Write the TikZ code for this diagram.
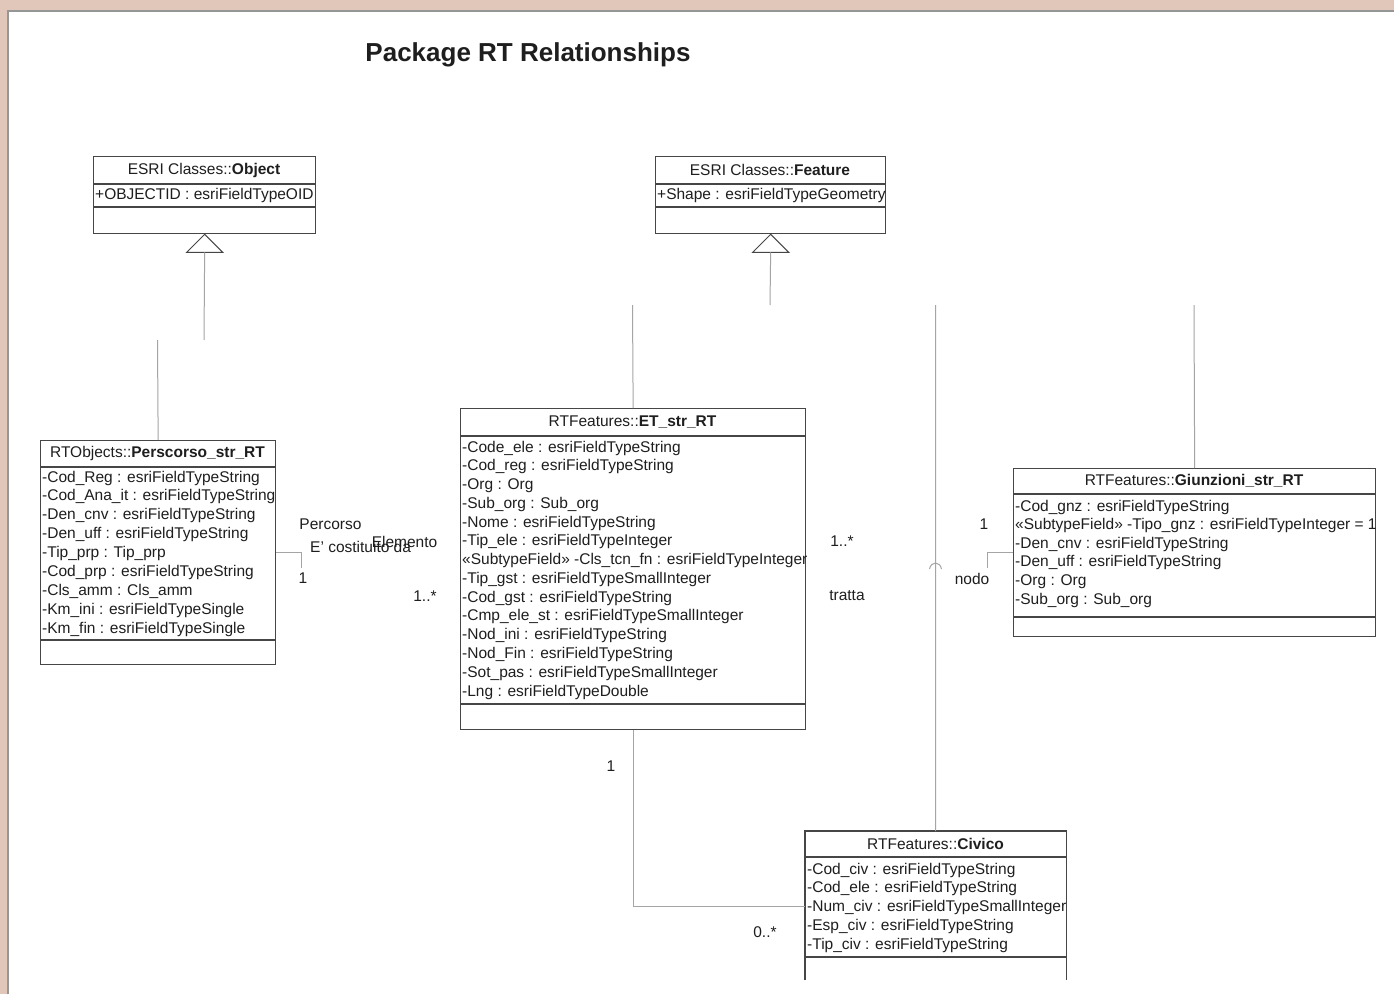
\documentclass[tikz,border=0pt]{standalone}
\usepackage{fontspec}
\setmainfont{Liberation Sans}
\usepackage{xcolor}
\definecolor{page-bg}{RGB}{225,198,186}
\definecolor{page-edge}{RGB}{150,150,150}
\definecolor{box-line}{RGB}{70,70,70}
\definecolor{link-line}{RGB}{165,165,165}
\definecolor{txt}{RGB}{30,30,30}
\usetikzlibrary{calc}

\tikzset{
	umlbox/.style={draw=box-line,line width=1.3pt,inner sep=0pt,anchor=north west},
	divider/.style={draw=box-line,line width=1.1pt},
	attr/.style={anchor=west,inner sep=0pt,text=txt,font=\fontsize{15.5}{18}\selectfont},
	ctitle/.style={inner sep=0pt,text=txt,font=\fontsize{15.5}{18}\selectfont},
	lbl/.style={inner sep=0pt,text=txt,font=\fontsize{15.5}{18}\selectfont},
	gen/.style={draw=link-line,line width=1pt},
	assoc/.style={draw=link-line,line width=1pt},
	genhead/.style={draw=box-line,line width=1pt,fill=white},
}

\begin{document}
\begin{tikzpicture}[x=1pt,y=-1pt]
	\useasboundingbox (0,0) rectangle (1394,994);
	\fill[page-bg] (0,0) rectangle (1394,994);
	\fill[white] (8,11) rectangle (1394,994);
	\draw[page-edge,line width=2pt] (7.5,994) -- (7.5,10.5) -- (1394,10.5);

	\node[inner sep=0pt,text=txt,font=\fontsize{26}{30}\selectfont\bfseries]
		(title) at (528,55) {Package RT Relationships};

	% ESRI classes
	\node[umlbox,minimum width=222pt,minimum height=77pt] (obj) at (93,156) {};
	\node[ctitle] (obj-t) at (204,170) {ESRI Classes::\textbf{Object}};
	\draw[divider] (93,184) -- (315,184) (93,207) -- (315,207);
	\node[attr] (obj-1) at (95,195) {+OBJECTID : esriFieldTypeOID};

	\node[umlbox,minimum width=230pt,minimum height=77pt] (feat) at (655,156) {};
	\node[ctitle] (feat-t) at (770,170) {ESRI Classes::\textbf{Feature}};
	\draw[divider] (655,184) -- (885,184) (655,207) -- (885,207);
	\node[attr] (feat-1) at (657,195) {+Shape : esriFieldTypeGeometry};

	\draw[genhead] (obj.south) -- ++(-18,18) -- ++(36,0) -- cycle;
	\draw[genhead] (feat.south) -- ++(-18,18) -- ++(36,0) -- cycle;
	\coordinate (obj-base) at ([yshift=-18pt]obj.south);
	\coordinate (feat-base) at ([yshift=-18pt]feat.south);
	\coordinate (obj-end) at (204,340);
	\coordinate (feat-end) at (770,305);
	\draw[gen] (obj-base) -- (obj-end);
	\draw[gen] (feat-base) -- (feat-end);

	% RTObjects::Perscorso_str_RT
	\node[umlbox,minimum width=235pt,minimum height=224pt] (pers) at (40,440) {};
	\node[ctitle] (pers-t) at (157.5,453) {RTObjects::\textbf{Perscorso\_str\_RT}};
	\draw[divider] (40,467) -- (275,467) (40,640) -- (275,640);
	\foreach \a [count=\i] in {-Cod\_Reg : esriFieldTypeString,
		-Cod\_Ana\_it : esriFieldTypeString,-Den\_cnv : esriFieldTypeString,
		-Den\_uff : esriFieldTypeString,-Tip\_prp : Tip\_prp,
		-Cod\_prp : esriFieldTypeString,-Cls\_amm : Cls\_amm,
		-Km\_ini : esriFieldTypeSingle,-Km\_fin : esriFieldTypeSingle}
		\node[attr] (pers-\i) at ({42},{478+(\i-1)*18.9}) {\a};

	% RTFeatures::ET_str_RT
	\node[umlbox,minimum width=345pt,minimum height=321pt] (et) at (460,408) {};
	\node[ctitle] (et-t) at (632.5,422) {RTFeatures::\textbf{ET\_str\_RT}};
	\draw[divider] (460,436) -- (805,436) (460,704) -- (805,704);
	\foreach \a [count=\i] in {-Code\_ele : esriFieldTypeString,
		-Cod\_reg : esriFieldTypeString,-Org : Org,-Sub\_org : Sub\_org,
		-Nome : esriFieldTypeString,-Tip\_ele : esriFieldTypeInteger,
		«SubtypeField» -Cls\_tcn\_fn : esriFieldTypeInteger,
		-Tip\_gst : esriFieldTypeSmallInteger,-Cod\_gst : esriFieldTypeString,
		-Cmp\_ele\_st : esriFieldTypeSmallInteger,-Nod\_ini : esriFieldTypeString,
		-Nod\_Fin : esriFieldTypeString,-Sot\_pas : esriFieldTypeSmallInteger,
		-Lng : esriFieldTypeDouble}
		\node[attr] (et-\i) at ({462},{448+(\i-1)*18.77}) {\a};

	% RTFeatures::Giunzioni_str_RT
	\node[umlbox,minimum width=362pt,minimum height=168pt] (giunz) at (1013,468) {};
	\node[ctitle] (giunz-t) at (1194,481) {RTFeatures::\textbf{Giunzioni\_str\_RT}};
	\draw[divider] (1013,494) -- (1375,494) (1013,617) -- (1375,617);
	\foreach \a [count=\i] in {-Cod\_gnz : esriFieldTypeString,
		«SubtypeField» -Tipo\_gnz : esriFieldTypeInteger = 1,
		-Den\_cnv : esriFieldTypeString,-Den\_uff : esriFieldTypeString,
		-Org : Org,-Sub\_org : Sub\_org}
		\node[attr] (giunz-\i) at ({1015},{507+(\i-1)*18.6}) {\a};

	% RTFeatures::Civico (open at the bottom)
	\node[inner sep=0pt,anchor=north west,minimum width=261pt,minimum height=149pt] (civ) at (805,831) {};
	\draw[box-line,line width=1.3pt] (civ.south west) -- (civ.north west) -- (civ.north east) -- (civ.south east);
	\node[ctitle] (civ-t) at (935.5,844) {RTFeatures::\textbf{Civico}};
	\draw[divider] (805,857) -- (1066,857) (805,957) -- (1066,957);
	\foreach \a [count=\i] in {-Cod\_civ : esriFieldTypeString,
		-Cod\_ele : esriFieldTypeString,-Num\_civ : esriFieldTypeSmallInteger,
		-Esp\_civ : esriFieldTypeString,-Tip\_civ : esriFieldTypeString}
		\node[attr] (civ-\i) at ({807},{870+(\i-1)*18.75}) {\a};

	% generalization stubs
	\coordinate (pers-up) at (157.5,340);
	\coordinate (et-up) at (632.5,305);
	\coordinate (civ-up) at (935.5,305);
	\coordinate (giunz-up) at (1194,305);
	\draw[gen] (pers.north) -- (pers-up);
	\draw[gen] (et.north) -- (et-up);
	\draw[gen] (civ.north) -- (civ-up);
	\draw[gen] (giunz.north) -- (giunz-up);
	\draw[gen] (929.5,569) .. controls (931,561) and (940,561) .. (941.5,569);

	% associations
	\coordinate (pers-link) at (301,568);
	\coordinate (giunz-link) at (987,568);
	\coordinate (civ-link) at (805,906);
	\draw[assoc] (pers.east) -| (pers-link);
	\draw[assoc] (giunz.west) -| (giunz-link);
	\draw[assoc] (et.south) |- (civ-link);

	\path
		(330.5,524) node[lbl] (l-percorso) {Percorso}
		(310,547)   node[lbl,anchor=west] (l-costituito) {E' costituito da}
		(404.5,542) node[lbl] (l-elemento) {Elemento}
		(303,578)   node[lbl] (l-one-a) {1}
		(425,596)   node[lbl] (l-many-a) {1..*}
		(842,541)   node[lbl] (l-many-b) {1..*}
		(847,596)   node[lbl] (l-tratta) {tratta}
		(984,524)   node[lbl] (l-one-b) {1}
		(972,579)   node[lbl] (l-nodo) {nodo}
		(611,766)   node[lbl] (l-one-c) {1}
		(765,932)   node[lbl] (l-zero) {0..*};
\end{tikzpicture}
\end{document}
